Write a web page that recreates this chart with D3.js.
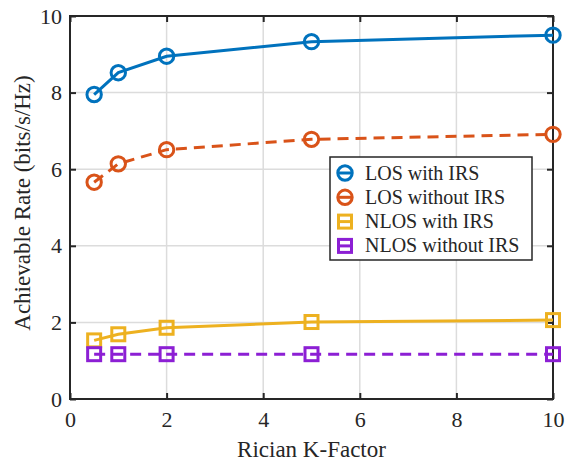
<!DOCTYPE html>
<html>
<head>
<meta charset="utf-8">
<script src="https://cdn.jsdelivr.net/npm/d3@7"></script>
<style>
body { margin: 0; background: #fff; }
</style>
</head>
<body>
<script>
// data
var kFactor = [0.5, 1, 2, 5, 10];
var losWithIRS = [7.95, 8.52, 8.95, 9.33, 9.50];
var losWithoutIRS = [5.66, 6.14, 6.51, 6.78, 6.91];
var nlosWithIRS = [1.53, 1.69, 1.86, 2.01, 2.06];
var nlosWithoutIRS = [1.17, 1.17, 1.17, 1.17, 1.17];
var seriesNames = ["LOS with IRS", "LOS without IRS", "NLOS with IRS", "NLOS without IRS"];
var xTicks = [0, 2, 4, 6, 8, 10];
var yTicks = [0, 2, 4, 6, 8, 10];

var FONT = "Liberation Serif";

var series = [
    {name: seriesNames[0], values: losWithIRS, color: "#0072BD", marker: "circle", dash: null},
    {name: seriesNames[1], values: losWithoutIRS, color: "#D95319", marker: "circle", dash: "11,7"},
    {name: seriesNames[2], values: nlosWithIRS, color: "#EDB120", marker: "square", dash: null},
    {name: seriesNames[3], values: nlosWithoutIRS, color: "#8C1FD4", marker: "square", dash: "11,7"}
];

var W = 565, H = 462;
var margin = {left:70, right:12, top:16, bottom:63};
var width = W - margin.left - margin.right;
var height = H - margin.top - margin.bottom;

var svg = d3.select("body").append("svg")
    .attr("width", W)
    .attr("height", H)
    .attr("font-family", FONT);

var g = svg.append("g").attr("transform", "translate("+margin.left+","+margin.top+")");

//SCALES
var x = d3.scaleLinear().domain([0,10]).range([0,width]);
var y = d3.scaleLinear().domain([0,10]).range([height,0]);

//grid
g.selectAll("line.gx").data(xTicks).enter().append("line")
    .attr("x1", function(d){return x(d);}).attr("x2", function(d){return x(d);})
    .attr("y1", 0).attr("y2", height)
    .attr("stroke", "#dcdcdc").attr("stroke-width", 1.5);
g.selectAll("line.gy").data(yTicks).enter().append("line")
    .attr("y1", function(d){return y(d);}).attr("y2", function(d){return y(d);})
    .attr("x1", 0).attr("x2", width)
    .attr("stroke", "#dcdcdc").attr("stroke-width", 1.5);

//axes: ticks inward, box on
function styleAxis(sel) {
    sel.attr("font-family", FONT).attr("font-size", 22);
    sel.select(".domain").remove();
    sel.selectAll(".tick line").attr("stroke", "#262626").attr("stroke-width", 2);
    sel.selectAll(".tick text")
        .attr("font-family", FONT)
        .attr("font-size", 22)
        .attr("fill", "#262626");
}
g.append("g").attr("transform","translate(0,"+height+")")
    .call(d3.axisBottom(x).tickValues(xTicks).tickSizeInner(-6).tickSizeOuter(0).tickPadding(12))
    .call(styleAxis);
g.append("g")
    .call(d3.axisLeft(y).tickValues(yTicks).tickSizeInner(-6).tickSizeOuter(0).tickPadding(8))
    .call(styleAxis);
g.append("g")
    .call(d3.axisTop(x).tickValues(xTicks).tickSizeInner(-6).tickSizeOuter(0).tickFormat(""))
    .call(styleAxis);
g.append("g").attr("transform","translate("+width+",0)")
    .call(d3.axisRight(y).tickValues(yTicks).tickSizeInner(-6).tickSizeOuter(0).tickFormat(""))
    .call(styleAxis);

g.append("rect").attr("width", width).attr("height", height)
    .attr("fill", "none").attr("stroke", "#262626").attr("stroke-width", 2);

//lines
var line = d3.line()
    .x(function(d,i){return x(kFactor[i]);})
    .y(function(d){return y(d);});

function drawMarker(sel, type, color) {
    if (type === "circle") {
        sel.append("circle").attr("r", 7.2)
            .attr("fill", "none").attr("stroke", color).attr("stroke-width", 3);
    } else {
        sel.append("rect").attr("x", -6.5).attr("y", -6.5).attr("width", 13).attr("height", 13)
            .attr("fill", "none").attr("stroke", color).attr("stroke-width", 3);
    }
}

series.forEach(function(s) {
    g.append("path")
        .attr("d", line(s.values))
        .attr("fill", "none")
        .attr("stroke", s.color)
        .attr("stroke-width", 3)
        .attr("stroke-dasharray", s.dash);
    g.selectAll(null).data(s.values).enter().append("g")
        .attr("transform", function(d,i){return "translate("+x(kFactor[i])+","+y(d)+")";})
        .each(function(){ drawMarker(d3.select(this), s.marker, s.color); });
});

//axis labels
svg.append("text")
    .attr("x", margin.left + width/2).attr("y", 457)
    .attr("text-anchor", "middle")
    .attr("font-family", FONT).attr("font-size", 23).attr("fill", "#262626")
    .text("Rician K-Factor");
svg.append("text")
    .attr("transform", "translate(30,203) rotate(-90)")
    .attr("text-anchor", "middle")
    .attr("font-family", FONT).attr("font-size", 23).attr("fill", "#262626")
    .text("Achievable Rate (bits/s/Hz)");

//legend
var lg = svg.append("g").attr("transform", "translate(330,157)");
lg.append("rect").attr("width", 202).attr("height", 103)
    .attr("fill", "#fff").attr("stroke", "#262626").attr("stroke-width", 1.5);
series.forEach(function(s, i) {
    var row = lg.append("g").attr("transform", "translate(15,"+(16+i*24.3)+")");
    row.append("line").attr("x1", -8).attr("x2", 8)
        .attr("stroke", s.color).attr("stroke-width", 3);
    drawMarker(row, s.marker, s.color);
    row.append("text").attr("x", 20).attr("y", 6.5)
        .attr("font-family", FONT).attr("font-size", 20).attr("fill", "#262626")
        .text(s.name);
});
</script>
</body>
</html>
